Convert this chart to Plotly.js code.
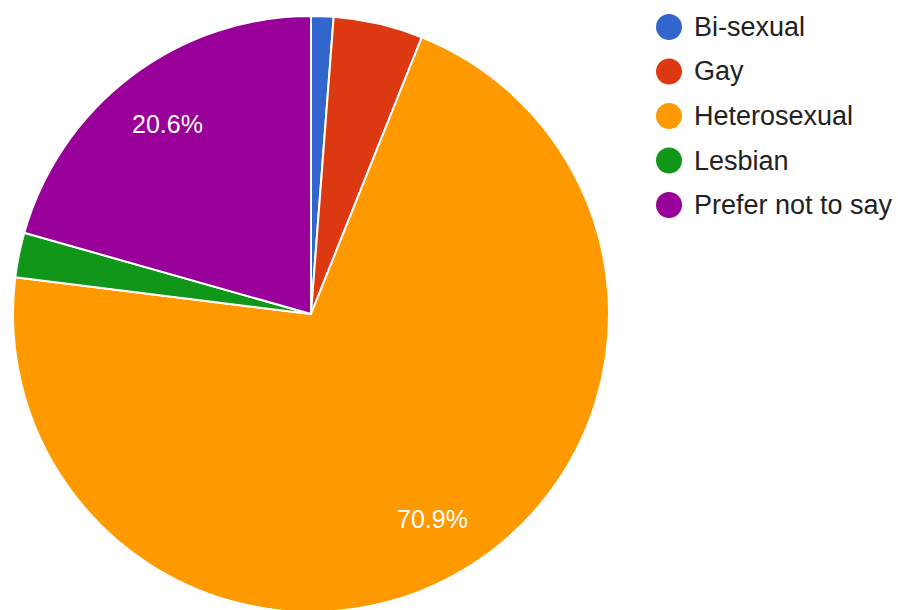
<!DOCTYPE html>
<html>
<head>
<meta charset="utf-8">
<script src="https://cdn.plot.ly/plotly-3.0.1.min.js"></script>
<style>
html,body{margin:0;padding:0;overflow:hidden;background:#fff;}
#chart{width:898px;height:614px;}
</style>
</head>
<body>
<div id="chart"></div>
<script>
const labels = ['Bi-sexual', 'Gay', 'Heterosexual', 'Lesbian', 'Prefer not to say'];
const counts = [2, 8, 117, 4, 34];
const colors = ['#3366cc', '#dc3912', '#ff9900', '#109618', '#990099'];
const showPct = [false, false, true, false, true];

const W = 898, H = 614;
const fontFam = 'Arial, "Liberation Sans", sans-serif';
const cx = 311, cy = 314, R = 298;

const trace = {
  type: 'pie',
  labels: labels,
  values: counts,
  marker: {colors: colors, line: {color: '#ffffff', width: 2}},
  sort: false,
  direction: 'clockwise',
  rotation: 0,
  textinfo: 'none',
  hoverinfo: 'label+percent',
  showlegend: false,
  domain: {x: [(cx - R) / W, (cx + R) / W], y: [(H - cy - R) / H, (H - cy + R) / H]}
};

const annotations = [];
// percentage labels placed along each slice's mid-angle (Google Charts style, 0.8 r)
const total = counts.reduce((a, b) => a + b, 0);
let cum = 0;
counts.forEach((v, i) => {
  const frac = v / total;
  const mid = (cum + frac / 2) * 2 * Math.PI;
  cum += frac;
  if (!showPct[i]) return;
  const px = cx + 0.8 * R * Math.sin(mid);
  const py = cy - 0.8 * R * Math.cos(mid);
  annotations.push({
    xref: 'paper', yref: 'paper', x: px / W, y: 1 - py / H,
    xanchor: 'center', yanchor: 'middle', showarrow: false,
    text: (frac * 100).toFixed(1) + '%',
    font: {family: fontFam, size: 25, color: '#ffffff'}
  });
});

// manual legend built from labels/colors
const legX = 669, legTextX = 692, legY0 = 27, legStep = 44.5, dotR = 13;
const shapes = labels.map((l, i) => ({
  type: 'circle', xref: 'paper', yref: 'paper',
  xsizemode: 'pixel', ysizemode: 'pixel',
  xanchor: legX / W, yanchor: 1 - (legY0 + i * legStep) / H,
  x0: -dotR, x1: dotR, y0: -dotR, y1: dotR,
  fillcolor: colors[i], line: {width: 0}
}));
labels.forEach((l, i) => annotations.push({
  xref: 'paper', yref: 'paper', x: legTextX / W, y: 1 - (legY0 + i * legStep) / H,
  xanchor: 'left', yanchor: 'middle', showarrow: false, text: l,
  font: {family: fontFam, size: 27, color: '#222222'}
}));

Plotly.newPlot('chart', [trace], {
  width: W, height: H,
  margin: {l: 0, r: 0, t: 0, b: 0},
  paper_bgcolor: '#ffffff',
  font: {family: fontFam},
  shapes: shapes,
  annotations: annotations
}, {displayModeBar: false});
</script>
</body>
</html>
